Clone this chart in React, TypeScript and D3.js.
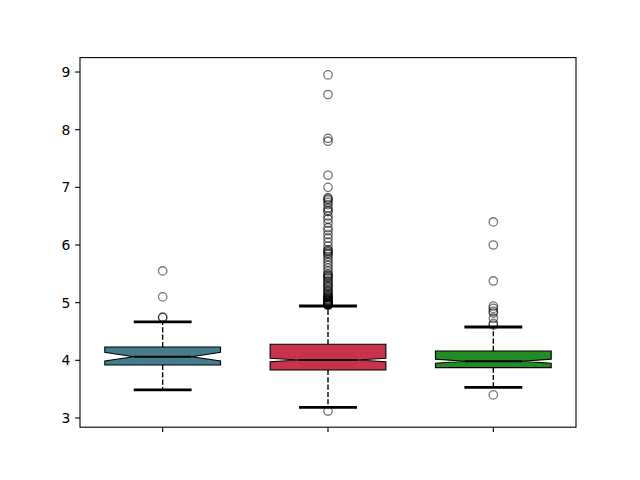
import React from "react";
import * as d3 from "d3";

const categories = ["A", "B", "C"];
const colors = ["#467d8c", "#c8324b", "#228b22"];
const q1 = [3.919, 3.832, 3.873];
const q3 = [4.231, 4.278, 4.162];
const medians = [4.063, 4.006, 3.983];
const ciLo = [3.99, 3.976, 3.95];
const ciHi = [4.14, 4.036, 4.02];
const whiskerLo = [3.486, 3.185, 3.532];
const whiskerHi = [4.665, 4.942, 4.578];
const outliersA = [5.55, 5.1, 4.75, 4.74];
const outliersB = [
  3.12, 8.95, 8.61, 7.85, 7.8, 7.21, 7.0, 6.82, 6.78, 6.74, 6.7, 6.64, 6.58, 6.5, 6.45,
  6.38, 6.3, 6.25, 6.18, 6.12, 6.05, 5.98, 5.92, 5.88, 5.84, 5.8, 5.75, 5.7, 5.65, 5.6,
  5.55, 5.5, 5.46, 5.42, 5.38, 5.33, 5.3, 5.26, 5.22, 5.18, 5.15, 5.12, 5.1, 5.08, 5.06,
  5.04, 5.02, 5.0, 4.98, 4.97, 4.96, 5.28, 5.2, 5.14, 5.09, 5.05, 5.03, 5.01, 4.99,
  4.985, 4.975, 4.965, 4.955, 5.48, 5.44, 5.36, 5.86, 5.9, 6.6, 6.8,
];
const outliersC = [6.4, 6.0, 5.376, 4.94, 4.9, 4.85, 4.82, 4.73, 4.64, 4.61, 3.4];
const outliers = [outliersA, outliersB, outliersC];
const yTicks = [3, 4, 5, 6, 7, 8, 9];

export default function App() {
  const W = 640, H = 480;
  const left = 80, right = 576, top = 57.6, bottom = 427.2;
  const x = d3.scaleLinear().domain([0.5, 3.5]).range([left, right]);
  const y = d3.scaleLinear().domain([2.84, 9.25]).range([bottom, top]);
  const boxW = 0.7;
  const px = (v: number) => x(v) - x(0);

  return (
    <svg width={W} height={H} style={{ position: "absolute", left: 0, top: 0 }}
      fontFamily="DejaVu Sans, sans-serif">
      <rect x={0} y={0} width={W} height={H} fill="#fff" />
      {categories.map((c, i) => {
        const cx = x(i + 1);
        const hw = px(boxW / 2);
        const nw = hw / 2;
        const l = cx - hw, r = cx + hw;
        const pts: [number, number][] = [
          [l, y(q1[i])], [l, y(ciLo[i])], [cx - nw, y(medians[i])], [l, y(ciHi[i])],
          [l, y(q3[i])], [r, y(q3[i])], [r, y(ciHi[i])], [cx + nw, y(medians[i])],
          [r, y(ciLo[i])], [r, y(q1[i])],
        ];
        const path = d3.line()(pts) + "Z";
        return (
          <g key={c}>
            <line x1={cx} x2={cx} y1={y(q1[i])} y2={y(whiskerLo[i])} stroke="#000"
              strokeWidth={1.39} strokeDasharray="5.1,2.2" />
            <line x1={cx} x2={cx} y1={y(q3[i])} y2={y(whiskerHi[i])} stroke="#000"
              strokeWidth={1.39} strokeDasharray="5.1,2.2" />
            <line x1={cx - nw} x2={cx + nw} y1={y(whiskerLo[i])} y2={y(whiskerLo[i])}
              stroke="#000" strokeWidth={2.78} />
            <line x1={cx - nw} x2={cx + nw} y1={y(whiskerHi[i])} y2={y(whiskerHi[i])}
              stroke="#000" strokeWidth={2.78} />
            <path d={path} fill={colors[i]} stroke="#000" strokeWidth={1.1} />
            <line x1={cx - nw} x2={cx + nw} y1={y(medians[i])} y2={y(medians[i])}
              stroke="#000" strokeWidth={2} />
            {outliers[i].map((v, j) => (
              <circle key={j} cx={cx} cy={y(v)} r={4.2} fill="none" stroke="#000"
                strokeOpacity={0.55} strokeWidth={1.3} />
            ))}
          </g>
        );
      })}
      <rect x={left} y={top} width={right - left} height={bottom - top} fill="none"
        stroke="#000" strokeWidth={1.1} />
      {yTicks.map((t) => (
        <g key={t}>
          <line x1={left - 4.86} x2={left} y1={y(t)} y2={y(t)} stroke="#000" strokeWidth={1.1} />
          <text x={left - 9.7} y={y(t)} dy="0.36em" textAnchor="end" fontSize={13.9}>{t}</text>
        </g>
      ))}
      {categories.map((c, i) => (
        <line key={c} x1={x(i + 1)} x2={x(i + 1)} y1={bottom} y2={bottom + 4.86}
          stroke="#000" strokeWidth={1.1} />
      ))}
    </svg>
  );
}
